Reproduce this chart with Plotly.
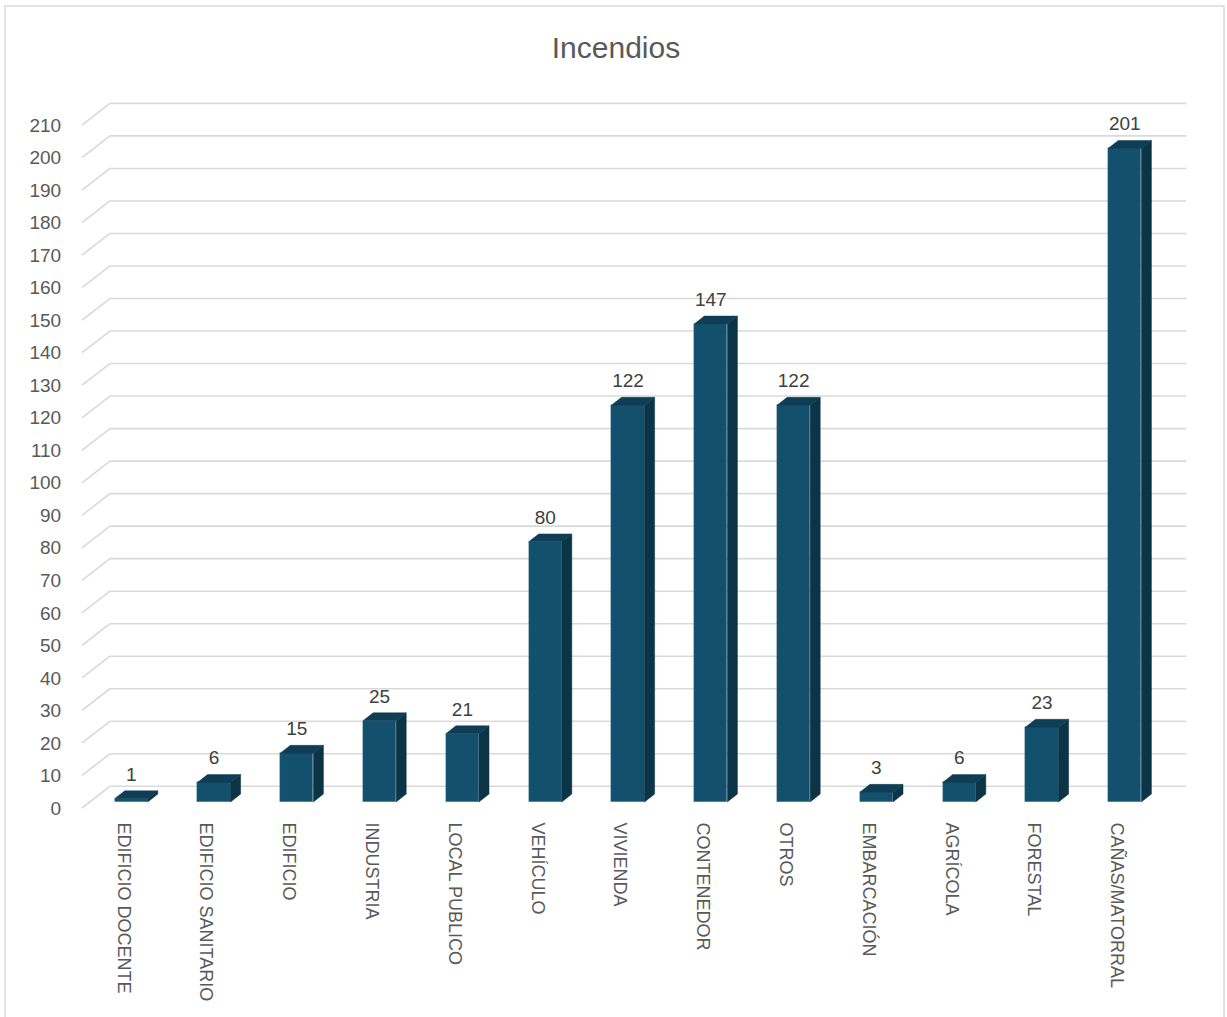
import plotly.graph_objects as go

# ---------------- data ----------------
categories = ["EDIFICIO DOCENTE", "EDIFICIO SANITARIO", "EDIFICIO", "INDUSTRIA",
              "LOCAL PUBLICO", "VEHÍCULO", "VIVIENDA", "CONTENEDOR", "OTROS",
              "EMBARCACIÓN", "AGRÍCOLA", "FORESTAL", "CAÑAS/MATORRAL"]
values = [1, 6, 15, 25, 21, 80, 122, 147, 122, 3, 6, 23, 201]
y_ticks = list(range(0, 211, 10))
title_text = "Incendios"

# ---------------- style / geometry ----------------
W, H = 1227, 1017
FONT = "Liberation Sans, Arial, sans-serif"
C_FRONT = "#13506e"
C_SIDE = "#0c3447"
C_TOP = "#0e3d55"
C_GRID = "#d9d9d9"
C_TICK = "#595959"

DX = 0.337      # depth offset in category units
DY = 6.67       # depth offset in value units
F_FRONT = 0.28  # depth fraction of bar front face
F_BACK = 0.64   # depth fraction of bar back face
BAR_W = 0.40

n = len(categories)
PLOT_LEFT = 82     # x of value-axis front plane
ZERO_Y = 808       # y of value 0 on front plane
L, R, T, B = 80, 37, 100, 205
plot_w = W - L - R
plot_h = H - T - B
px_x = 82.8
px_y = 3.252
x0 = -(PLOT_LEFT - L) / px_x
x_range = [x0, x0 + plot_w / px_x]
y0 = -((H - B) - ZERO_Y) / px_y
y_range = [y0, y0 + plot_h / px_y]

fig = go.Figure()

# gridlines (front diagonal + back horizontal), behind bars
shapes = []
for t in y_ticks:
    shapes.append(dict(type="line", xref="x", yref="y", x0=0, y0=t, x1=DX, y1=t + DY,
                       line=dict(color=C_GRID, width=1.6), layer="below"))
    shapes.append(dict(type="line", xref="x", yref="y", x0=DX, y0=t + DY, x1=n + DX, y1=t + DY,
                       line=dict(color=C_GRID, width=1.6), layer="below"))

# chart frame
def px2paper_x(p):
    return (p - L) / plot_w

def px2paper_y(p):
    return ((H - B) - p) / plot_h

shapes.append(dict(type="rect", xref="paper", yref="paper",
                   x0=px2paper_x(5), x1=px2paper_x(1224),
                   y0=px2paper_y(1030), y1=px2paper_y(6),
                   line=dict(color=C_GRID, width=1.5), fillcolor="rgba(0,0,0,0)", layer="below"))

# front faces (bars)
front_x = [i + 0.5 + F_FRONT * DX for i in range(n)]
fig.add_trace(go.Bar(
    x=front_x, y=values, base=[F_FRONT * DY] * n, width=BAR_W,
    marker=dict(color=C_FRONT, line=dict(color="rgba(120,160,185,0.5)", width=0.6)),
    hoverinfo="skip", showlegend=False))

# side and top faces
ddx = (F_BACK - F_FRONT) * DX
ddy = (F_BACK - F_FRONT) * DY
for i, v in enumerate(values):
    xl = front_x[i] - BAR_W / 2
    xr = front_x[i] + BAR_W / 2
    yb = F_FRONT * DY
    yt = v + F_FRONT * DY
    fig.add_trace(go.Scatter(
        x=[xr, xr + ddx, xr + ddx, xr, xr], y=[yb, yb + ddy, yt + ddy, yt, yb],
        fill="toself", fillcolor=C_SIDE, mode="lines", line=dict(color=C_SIDE, width=0.5),
        hoverinfo="skip", showlegend=False))
    fig.add_trace(go.Scatter(
        x=[xl, xr, xr + ddx, xl + ddx, xl], y=[yt, yt, yt + ddy, yt + ddy, yt],
        fill="toself", fillcolor=C_TOP, mode="lines", line=dict(color=C_TOP, width=0.5),
        hoverinfo="skip", showlegend=False))

# data labels
fig.add_trace(go.Scatter(
    x=front_x, y=[v + F_FRONT * DY + 7.0 for v in values],
    text=[str(v) for v in values], mode="text", textposition="middle center",
    textfont=dict(family=FONT, size=19, color="#404040"),
    hoverinfo="skip", showlegend=False))

fig.update_layout(
    width=W, height=H,
    margin=dict(l=L, r=R, t=T, b=B),
    paper_bgcolor="white", plot_bgcolor="white",
    title=dict(text=title_text, x=616 / W, xanchor="center", y=1 - 47 / H, yanchor="middle",
               font=dict(family=FONT, size=30, color=C_TICK)),
    shapes=shapes,
    bargap=0,
    xaxis=dict(range=x_range, tickvals=[i + 0.5 for i in range(n)], ticktext=categories,
               tickangle=90, showgrid=False, zeroline=False, showline=False,
               ticks="outside", ticklen=6, tickcolor="rgba(0,0,0,0)",
               tickfont=dict(family=FONT, size=18, color=C_TICK)),
    yaxis=dict(range=y_range, tickvals=y_ticks, showgrid=False, zeroline=False, showline=False,
               ticks="outside", ticklen=14, tickcolor="rgba(0,0,0,0)",
               tickfont=dict(family=FONT, size=19, color=C_TICK)),
)

fig.write_html("out.html", config={"displayModeBar": False},
               post_script="document.body.style.margin='0';document.body.style.overflow='hidden';")
